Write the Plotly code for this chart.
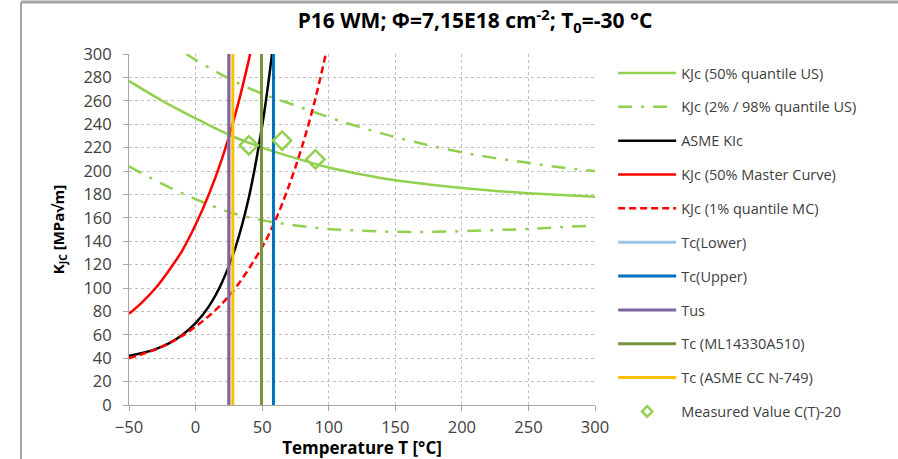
import plotly.graph_objects as go

# ---- data ----
T_us = [-50, -25, 0, 25, 50, 75, 100, 125, 150, 175, 200, 225, 250, 275, 300]
K_us50 = [277, 260, 245, 231, 220, 211, 203, 197, 192, 188.5, 185.5, 183, 181, 179.5, 178]
T_us98 = [-7, 0, 25, 50, 75, 100, 125, 150, 175, 200, 225, 250, 275, 300]
K_us98 = [300, 295, 279, 266, 256, 246, 237, 229, 222, 216, 211, 207, 203, 200]
K_us02 = [204, 189, 176, 165, 158, 153.5, 150.5, 149, 148, 148, 148.5, 149.5, 150.5, 152, 153.5]

T_asme = [-50, -40, -30, -20, -10, 0, 10, 20, 30, 40, 50, 55, 58]
K_asme = [42, 44.4, 47.8, 52.7, 59.8, 69.9, 84.3, 105.1, 134.8, 177.3, 238.4, 278.2, 306]
T_mc = [-50, -40, -30, -20, -10, 0, 10, 20, 30, 40, 42]
K_mc50 = [78, 88, 100, 115, 132, 154, 180, 211, 249, 295, 306]
T_mc1 = [-50, -25, 0, 25, 50, 60, 70, 80, 90, 98]
K_mc1 = [40, 50, 67, 93, 135, 158, 187, 221, 262, 301]

T_lower = 25
T_upper = 58.5
T_us_line = 25
T_ml = 49.5
T_asme_cc = 28

meas_T = [40, 65, 90]
meas_K = [222, 226, 210]

vert_y = [0, 300]

GREEN = "#92D050"
FONT = "Open Sans"

fig = go.Figure()

def add(name, x, y, color, width=2.5, dash="solid", shape="spline"):
    fig.add_trace(go.Scatter(x=x, y=y, mode="lines", name=name, legendgroup=name,
                             line=dict(color=color, width=width, dash=dash, shape=shape)))

add("KJc (50% quantile US)", T_us, K_us50, GREEN)
add("KJc (2% / 98% quantile US)", T_us98, K_us98, GREEN, dash="14px,9px,3px,9px")
fig.add_trace(go.Scatter(x=T_us, y=K_us02, mode="lines", name="KJc (2% / 98% quantile US) low",
                         legendgroup="KJc (2% / 98% quantile US)", showlegend=False,
                         line=dict(color=GREEN, width=2.5, dash="14px,9px,3px,9px", shape="spline")))
add("ASME KIc", T_asme, K_asme, "#000000")
add("KJc (50% Master Curve)", T_mc, K_mc50, "#FF0000")
add("KJc (1% quantile MC)", T_mc1, K_mc1, "#FF0000", dash="7px,4px")
add("Tc(Lower)", [T_lower, T_lower], vert_y, "#9DC3E6", width=3, shape="linear")
add("Tc(Upper)", [T_upper, T_upper], vert_y, "#0070C0", width=3, shape="linear")
add("Tus", [T_us_line, T_us_line], vert_y, "#8064A2", width=3, shape="linear")
add("Tc (ML14330A510)", [T_ml, T_ml], vert_y, "#77933C", width=3, shape="linear")
add("Tc (ASME CC N-749)", [T_asme_cc, T_asme_cc], vert_y, "#FFC000", width=3, shape="linear")
fig.add_trace(go.Scatter(x=meas_T, y=meas_K, mode="markers", name="Measured Value C(T)-20",
                         legendgroup="meas", showlegend=False,
                         marker=dict(symbol="diamond-open", size=14, color=GREEN,
                                     line=dict(width=2.5, color=GREEN))))
# legend entry for the measured values (small marker as in the reference legend)
fig.add_trace(go.Scatter(x=[None], y=[None], mode="markers", name="Measured Value C(T)-20",
                         legendgroup="meas",
                         marker=dict(symbol="diamond-open", size=8, color=GREEN,
                                     line=dict(width=2.5, color=GREEN))))

axis_common = dict(showline=True, linecolor="#A6A6A6", linewidth=1, ticks="outside",
                   ticklen=5, tickcolor="#A6A6A6", gridcolor="#BFBFBF", griddash="dot",
                   gridwidth=1, zeroline=False, automargin=False,
                   tickfont=dict(family=FONT, size=16.5, color="#404040"))

fig.update_layout(
    width=898, height=459,
    margin=dict(l=129, r=303, t=54, b=54),
    paper_bgcolor="white", plot_bgcolor="white",
    title=dict(text="<b>P16 WM; Φ=7,15E18 cm<sup>-2</sup>; T<sub>0</sub>=-30 °C</b>",
               x=475 / 898, xanchor="center", y=1 - 21 / 459, yanchor="middle",
               font=dict(family=FONT, size=21, color="#000000")),
    xaxis=dict(range=[-50, 300], dtick=50, tick0=-50, ticklabelstandoff=2,
               title=dict(text="<b>Temperature T [°C]</b>", font=dict(family=FONT, size=17, color="#000000"),
                          standoff=6),
               **axis_common),
    yaxis=dict(range=[0, 300], dtick=20, ticklabelstandoff=8,
               title=dict(text="<b>K<sub>JC</sub> [MPa√m]</b>", font=dict(family=FONT, size=15, color="#000000"),
                          standoff=15),
               **axis_common),
    legend=dict(x=1.039, xanchor="left", y=1 - 3 / 351, yanchor="top",
                font=dict(family=FONT, size=14.5, color="#404040"),
                tracegroupgap=12, itemwidth=58, bgcolor="rgba(0,0,0,0)", maxheight=440),
    showlegend=True,
)

# chart frame border (partial, as in screenshot)
fig.add_shape(type="line", xref="paper", yref="paper", x0=-108 / 466, x1=-108 / 466,
              y0=-54 / 351, y1=(351 + 52) / 351, line=dict(color="#A6A6A6", width=2))
fig.add_shape(type="line", xref="paper", yref="paper", x0=-108 / 466, x1=(898 - 129) / 466,
              y0=(351 + 52) / 351, y1=(351 + 52) / 351, line=dict(color="#A6A6A6", width=3))

fig.write_html("out.html")
